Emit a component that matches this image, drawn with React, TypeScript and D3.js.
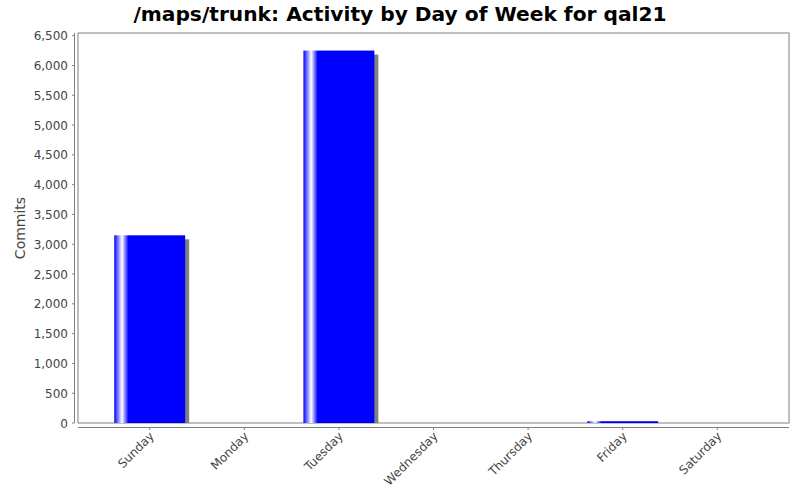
import React from "react";
import * as d3 from "d3";

const days = ["Sunday", "Monday", "Tuesday", "Wednesday", "Thursday", "Friday", "Saturday"];
const commits = [3150, 0, 6250, 0, 0, 30, 0];
const yTicks = [0, 500, 1000, 1500, 2000, 2500, 3000, 3500, 4000, 4500, 5000, 5500, 6000, 6500];
const title = "/maps/trunk: Activity by Day of Week for qal21";
const yLabel = "Commits";

export default function App() {
  const W = 800, H = 500;
  const left = 78, right = 789, top = 33, bottom = 423;
  const x = d3.scaleBand<string>().domain(days).range([left, right]).paddingInner(0.25).paddingOuter(0.383);
  const y = d3.scaleLinear().domain([0, 6545]).range([bottom, top]);
  const fmt = d3.format(",");
  const font = "'DejaVu Sans', sans-serif";
  const bw = x.bandwidth();
  return (
    <svg width={W} height={H} style={{ position: "absolute", left: 0, top: 0, background: "#fff" }}>
      <defs>
        <linearGradient id="barGrad" x1="0" x2="1" y1="0" y2="0">
          <stop offset="0" stopColor="#0000ff" />
          <stop offset="0.11" stopColor="#ffffff" />
          <stop offset="0.2" stopColor="#0000ff" />
          <stop offset="1" stopColor="#0000ff" />
        </linearGradient>
      </defs>
      <rect x={0} y={0} width={W} height={H} fill="#fff" />
      <text x={400} y={21} textAnchor="middle" fontFamily={font} fontWeight="bold" fontSize={20.2} fill="#000">
        {title}
      </text>
      {/* plot border */}
      <rect x={left} y={top} width={right - left} height={bottom - top} fill="#fff" stroke="#808080" strokeWidth={1} />
      {/* bars */}
      {days.map((d, i) => {
        const v = commits[i];
        if (v <= 0) return null;
        const bx = x(d)!;
        const by = y(v);
        const h = bottom - by;
        return (
          <g key={d}>
            <rect x={bx + 4} y={by + 4} width={bw} height={Math.max(0, h - 4)} fill="#808080" />
            <rect x={bx} y={by} width={bw} height={h} fill="url(#barGrad)" />
          </g>
        );
      })}
      {/* y axis */}
      <line x1={74.5} x2={74.5} y1={top} y2={bottom} stroke="#808080" />
      {yTicks.map((t) => (
        <g key={t}>
          <line x1={72} x2={74.5} y1={y(t)} y2={y(t)} stroke="#808080" />
          <text x={68} y={y(t) + 4.5} textAnchor="end" fontFamily={font} fontSize={12} fill="#444">
            {fmt(t)}
          </text>
        </g>
      ))}
      <text
        transform={`translate(25,${(top + bottom) / 2}) rotate(-90)`}
        textAnchor="middle"
        fontFamily={font}
        fontSize={14}
        fill="#444"
      >
        {yLabel}
      </text>
      {/* x axis */}
      <line x1={left} x2={right} y1={427.5} y2={427.5} stroke="#808080" />
      {days.map((d) => {
        const cx = x(d)! + bw / 2;
        return (
          <g key={d}>
            <line x1={cx} x2={cx} y1={427.5} y2={430} stroke="#808080" />
            <text
              transform={`translate(${cx + 5},${437}) rotate(-45)`}
              textAnchor="end"
              fontFamily={font}
              fontSize={12}
              fill="#444"
            >
              {d}
            </text>
          </g>
        );
      })}
    </svg>
  );
}
